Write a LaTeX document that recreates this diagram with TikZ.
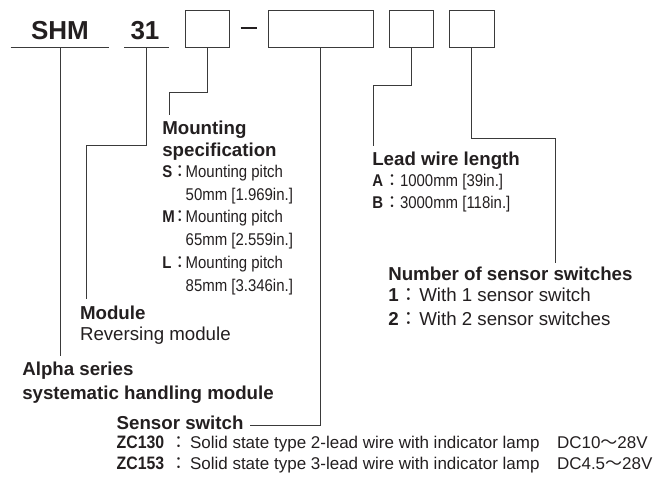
\documentclass[tikz,border=0pt]{standalone}
\usepackage{fontspec}
\setmainfont{Liberation Sans}
\newfontfamily\condfont{Liberation Sans}[FakeStretch=0.88]
\newfontfamily\cjkfont{Noto Sans CJK JP}
\definecolor{ink}{HTML}{231F20}
\definecolor{wire}{HTML}{3A3A3A}
\newcommand\fwcolon[1]{\makebox[#1][c]{\cjkfont ：}}
\newcommand\fwtilde{{\cjkfont ～}}
\begin{document}
\begin{tikzpicture}[x=1pt,y=-1pt,
  lbl/.style={anchor=base west, inner sep=0pt, outer sep=0pt, text=ink},
  hdr/.style={lbl, font=\fontsize{18.7}{20}\selectfont\bfseries},
  cnd/.style={lbl, font=\fontsize{17}{20}\selectfont\condfont},
  reg/.style={lbl, font=\fontsize{18.7}{20}\selectfont},
  sml/.style={lbl, font=\fontsize{17}{20}\selectfont},
  big/.style={anchor=base, inner sep=0pt, outer sep=0pt, text=ink, font=\fontsize{26}{28}\selectfont\bfseries},
  codebox/.style={draw=wire, line width=1pt, minimum height=37.3pt, inner sep=0pt, outer sep=0pt},
  wireline/.style={draw=wire, line width=0.9pt}
]
\useasboundingbox (0,0) rectangle (669,477);

% code fields
\node[big] (shm) at (60,39.3) {SHM};
\node[big] (n31) at (145,39.3) {31};
\coordinate (shmL) at (10.7,47.3);
\coordinate (shmR) at (108.7,47.3);
\coordinate (n31L) at (124,47.3);
\coordinate (n31R) at (169,47.3);
\draw[wireline] (shmL) -- (shmR);
\draw[wireline] (n31L) -- (n31R);
\node[codebox, minimum width=44.3pt] (b1) at (207.2,28.65) {};
\coordinate (dashL) at (240.7,28);
\coordinate (dashR) at (257.3,28);
\draw[draw=ink, line width=1.8pt] (dashL) -- (dashR);
\node[codebox, minimum width=105.3pt] (b2) at (320.65,28.65) {};
\node[codebox, minimum width=44.7pt] (b3) at (411.35,28.65) {};
\node[codebox, minimum width=44.7pt] (b4) at (471.65,28.65) {};

% connector ends
\coordinate (shmT) at (60,47.3);
\coordinate (shmE) at (60,356);
\coordinate (n31T) at (146.7,47.3);
\coordinate (n31E) at (86.7,299.3);
\coordinate (b1E) at (169.3,115);
\coordinate (b2E) at (250,425);
\coordinate (b3E) at (373.3,145.7);
\coordinate (b4E) at (555,263.3);

\draw[wireline] (shmT) -- (shmE);
\draw[wireline] (n31T) |- (86.7,145.7) -- (n31E);
\draw[wireline] (b1.south) |- (169.3,92.7) -- (b1E);
\draw[wireline] (b2.south) |- (b2E);
\draw[wireline] (b3.south) |- (373.3,85.3) -- (b3E);
\draw[wireline] (b4.south) |- (555,138.3) -- (b4E);

% Mounting specification
\node[hdr] (ms) at (162.3,134) {Mounting};
\node[hdr] (ms2) at (162.3,156) {specification};
\node[cnd] (msS) at (162.3,177.3) {\makebox[11.7pt][l]{\bfseries S}\fwcolon{11.7pt}Mounting pitch};
\node[cnd] (msS2) at (185.7,200) {50mm [1.969in.]};
\node[cnd] (msM) at (162.3,222.7) {\makebox[11.7pt][l]{\bfseries M}\fwcolon{11.7pt}Mounting pitch};
\node[cnd] (msM2) at (185.7,245.3) {65mm [2.559in.]};
\node[cnd] (msL) at (162.3,268.3) {\makebox[11.7pt][l]{\bfseries L}\fwcolon{11.7pt}Mounting pitch};
\node[cnd] (msL2) at (185.7,291) {85mm [3.346in.]};

% Lead wire length
\node[hdr] (lw) at (372.3,165) {Lead wire length};
\node[cnd] (lwA) at (372.3,186) {\makebox[11.7pt][l]{\bfseries A}\fwcolon{16pt}1000mm [39in.]};
\node[cnd] (lwB) at (372.3,208.3) {\makebox[11.7pt][l]{\bfseries B}\fwcolon{16pt}3000mm [118in.]};

% Number of sensor switches
\node[hdr] (ns) at (388.3,280.7) {Number of sensor switches};
\node[reg] (ns1) at (388.3,301.7) {\makebox[10pt][l]{\bfseries 1}\fwcolon{21pt}With 1 sensor switch};
\node[reg] (ns2) at (388.3,325) {\makebox[10pt][l]{\bfseries 2}\fwcolon{21pt}With 2 sensor switches};

% Module
\node[hdr] (mod) at (80,319) {Module};
\node[reg] (mod2) at (80,340) {Reversing module};

% Alpha series
\node[hdr] (al) at (22.3,375.7) {Alpha series};
\node[hdr] (al2) at (22.3,399.3) {systematic handling module};

% Sensor switch
\node[hdr] (ss) at (116.7,429.3) {Sensor switch};
\node[sml] (ss1) at (116.7,448.3) {\makebox[50.3pt][l]{\fontsize{18}{20}\selectfont\condfont\bfseries ZC130}\fwcolon{23pt}Solid state type 2-lead wire with indicator lamp};
\node[sml] (ss2) at (116.7,469.3) {\makebox[50.3pt][l]{\fontsize{18}{20}\selectfont\condfont\bfseries ZC153}\fwcolon{23pt}Solid state type 3-lead wire with indicator lamp};
\node[sml] (dc1) at (557,448.3) {DC10\fwtilde 28V};
\node[sml] (dc2) at (557,469.3) {DC4.5\fwtilde 28V};
\end{tikzpicture}
\end{document}
